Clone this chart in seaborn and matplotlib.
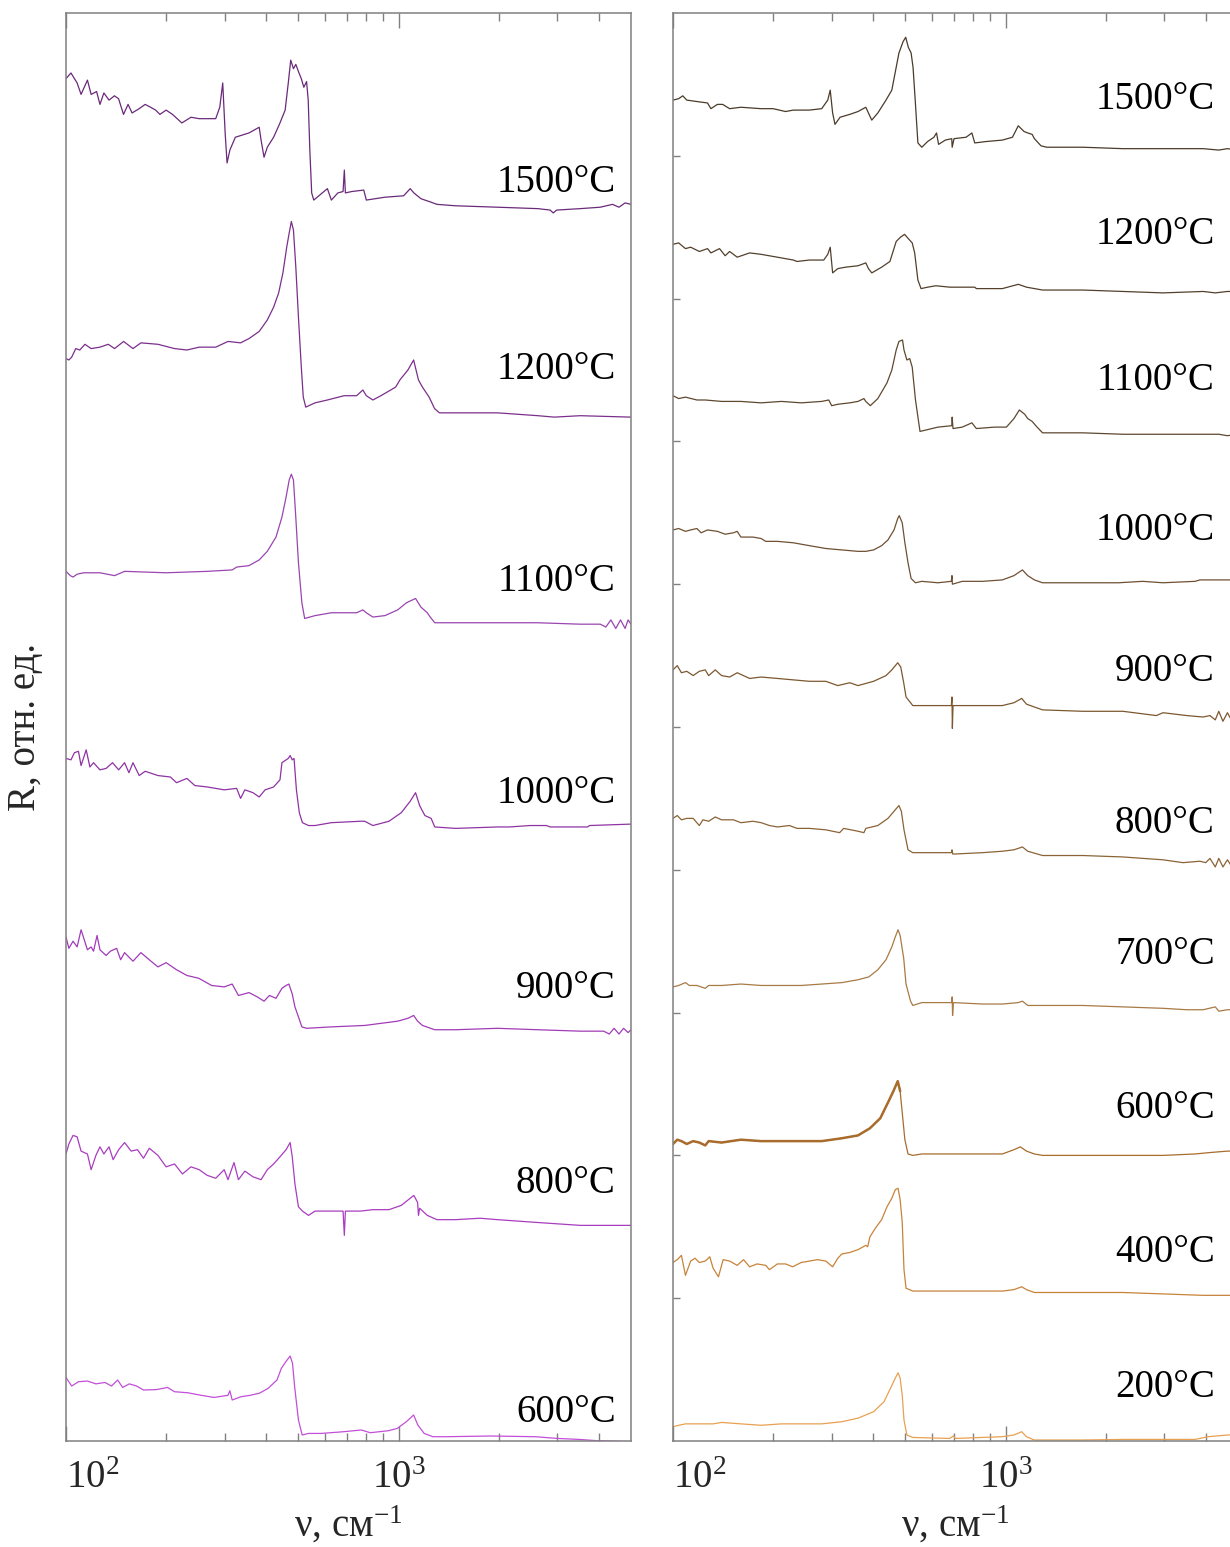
import pandas as pd
import matplotlib
matplotlib.use("Agg")
import matplotlib.pyplot as plt
import matplotlib.transforms as mtransforms
from matplotlib.ticker import FixedLocator, NullFormatter
import seaborn as sns

# reflectance spectra: (wavenumber cm-1, R offset units)
L1500 = [(100, 9.54), (103.5, 9.58), (108, 9.51), (111, 9.43), (116, 9.53), (119, 9.43), (123.6, 9.45),
         (126.5, 9.36), (130, 9.44), (134.7, 9.39), (139.8, 9.42), (143.9, 9.40), (148.9, 9.29), (153.7, 9.36),
         (158, 9.30), (166, 9.33), (173, 9.36), (179.6, 9.34), (186, 9.32), (191.6, 9.29), (200, 9.32),
         (209, 9.29), (223, 9.23), (237.6, 9.27), (251.5, 9.26), (282, 9.26), (290, 9.34), (296, 9.51),
         (301, 9.16), (305, 8.95), (311, 9.04), (323, 9.13), (355, 9.16), (381, 9.20), (386, 9.11), (394, 8.99),
         (403, 9.06), (421, 9.13), (440, 9.23), (456, 9.32), (466, 9.51), (474, 9.67), (483, 9.61), (491, 9.64),
         (500, 9.59), (510, 9.54), (519, 9.48), (529, 9.52), (535, 9.39), (541, 9.04), (548, 8.74), (556, 8.69),
         (576, 8.72), (611, 8.77), (628, 8.69), (657, 8.74), (681, 8.75), (687, 8.90), (692, 8.74), (724, 8.75),
         (786, 8.76), (800, 8.69), (910, 8.71), (1036, 8.72), (1084, 8.77), (1112, 8.74), (1167, 8.70),
         (1200, 8.69), (1236, 8.68), (1304, 8.66), (1484, 8.65), (1983, 8.64), (2624, 8.63), (2856, 8.62),
         (2918, 8.60), (2989, 8.62), (3519, 8.63), (4042, 8.64), (4400, 8.66), (4600, 8.64), (4800, 8.67),
         (5000, 8.66)]
L1200 = [(100, 7.58), (102, 7.57), (104, 7.59), (107, 7.65), (110, 7.64), (114, 7.68), (119, 7.65),
         (126.5, 7.66), (134, 7.68), (140, 7.65), (149, 7.70), (159, 7.65), (168, 7.69), (189, 7.68),
         (212, 7.65), (231, 7.64), (251.5, 7.66), (282, 7.66), (307, 7.70), (335, 7.69), (355, 7.72),
         (381, 7.77), (403, 7.85), (421, 7.94), (436, 8.04), (449, 8.18), (461, 8.36), (469, 8.46), (476, 8.54),
         (483, 8.48), (491, 8.22), (500, 7.87), (510, 7.52), (517, 7.31), (526, 7.24), (561, 7.27), (611, 7.29),
         (686, 7.32), (748, 7.32), (781, 7.36), (800, 7.32), (837, 7.29), (885, 7.32), (980, 7.38),
         (1009, 7.43), (1067, 7.50), (1110, 7.57), (1148, 7.43), (1180, 7.38), (1236, 7.31), (1283, 7.23),
         (1327, 7.20), (1484, 7.20), (1983, 7.20), (2624, 7.18), (2940, 7.17), (3519, 7.18), (5000, 7.17)]
L1100 = [(100, 6.09), (103, 6.06), (105, 6.05), (108, 6.07), (113, 6.08), (119, 6.08), (126.5, 6.08),
         (140, 6.06), (150, 6.09), (200, 6.08), (266, 6.09), (316, 6.10), (326, 6.12), (355, 6.13), (381, 6.17),
         (403, 6.23), (428, 6.33), (446, 6.47), (459, 6.61), (469, 6.73), (476, 6.77), (483, 6.73), (490, 6.50),
         (500, 6.15), (512, 5.87), (522, 5.76), (561, 5.78), (628, 5.80), (748, 5.80), (781, 5.82), (800, 5.80),
         (837, 5.77), (910, 5.78), (994, 5.82), (1056, 5.87), (1125, 5.90), (1167, 5.84), (1220, 5.80),
         (1245, 5.77), (1285, 5.73), (1484, 5.73), (1983, 5.73), (2624, 5.73), (3519, 5.72), (4042, 5.72),
         (4200, 5.70), (4350, 5.75), (4500, 5.69), (4650, 5.75), (4800, 5.69), (4900, 5.75), (5000, 5.72)]
L1000 = [(100, 4.78), (103.5, 4.77), (106, 4.82), (109, 4.83), (111, 4.73), (115, 4.84), (118, 4.72),
         (121, 4.75), (126.5, 4.70), (132, 4.71), (138, 4.75), (144, 4.70), (150, 4.75), (154.6, 4.68),
         (159, 4.75), (166, 4.66), (173, 4.69), (189, 4.66), (206, 4.65), (215, 4.61), (231, 4.64), (244, 4.59),
         (266, 4.58), (299, 4.56), (326, 4.57), (335, 4.50), (345, 4.56), (365, 4.54), (381, 4.51), (397, 4.56),
         (421, 4.58), (440, 4.63), (446, 4.75), (466, 4.78), (472, 4.80), (479, 4.77), (485, 4.78), (493, 4.56),
         (503, 4.40), (514, 4.33), (536, 4.31), (561, 4.31), (628, 4.33), (769, 4.34), (791, 4.34), (837, 4.31),
         (936, 4.34), (1019, 4.40), (1084, 4.48), (1125, 4.54), (1157, 4.45), (1200, 4.38), (1253, 4.36),
         (1285, 4.30), (1484, 4.29), (1983, 4.30), (2156, 4.30), (2485, 4.31), (2785, 4.31), (2856, 4.30),
         (3703, 4.30), (3750, 4.31), (5000, 4.32)]
L900 = [(100, 3.53), (102, 3.45), (105, 3.50), (108, 3.46), (111, 3.58), (116, 3.44), (119, 3.46),
        (121, 3.43), (124, 3.54), (126.5, 3.44), (132, 3.40), (136, 3.43), (142, 3.45), (146, 3.37), (150, 3.42),
        (159, 3.36), (168, 3.42), (178, 3.37), (189, 3.32), (200, 3.35), (215, 3.30), (231, 3.26), (251, 3.24),
        (274, 3.19), (299, 3.18), (316, 3.20), (330, 3.12), (355, 3.14), (376, 3.11), (394, 3.08), (409, 3.12),
        (428, 3.10), (446, 3.17), (459, 3.19), (468, 3.20), (479, 3.13), (488, 3.04), (500, 2.97), (512, 2.90),
        (529, 2.89), (628, 2.90), (791, 2.91), (994, 2.94), (1067, 2.96), (1110, 2.98), (1141, 2.94),
        (1180, 2.91), (1285, 2.88), (1484, 2.88), (1983, 2.89), (2624, 2.88), (3519, 2.87), (4140, 2.87),
        (4300, 2.85), (4450, 2.89), (4600, 2.85), (4750, 2.89), (4900, 2.86), (5000, 2.88)]
L800 = [(100, 2.01), (102, 2.08), (105, 2.14), (108, 2.13), (111, 2.03), (116, 2.01), (119, 1.90),
        (123, 2.00), (126.5, 2.06), (130, 2.01), (134.7, 2.06), (138.6, 1.97), (144, 2.04), (150, 2.09),
        (157, 2.03), (164, 2.04), (171, 1.98), (178, 2.05), (189, 2.00), (200, 1.92), (212, 1.94), (224, 1.87),
        (237.5, 1.92), (251.5, 1.90), (266, 1.86), (282, 1.84), (299, 1.90), (307, 1.83), (320, 1.95),
        (330, 1.83), (345, 1.89), (365, 1.85), (386, 1.83), (403, 1.90), (421, 1.94), (440, 1.99), (459, 2.04),
        (472, 2.09), (479, 1.99), (488, 1.80), (500, 1.64), (514, 1.61), (536, 1.58), (561, 1.61), (628, 1.61),
        (681, 1.61), (687, 1.44), (692, 1.61), (769, 1.61), (837, 1.62), (936, 1.62), (1019, 1.65),
        (1084, 1.70), (1112, 1.72), (1141, 1.67), (1148, 1.58), (1157, 1.63), (1220, 1.58), (1304, 1.55),
        (1484, 1.55), (1758, 1.56), (1983, 1.55), (2624, 1.53), (3519, 1.51), (5000, 1.51)]
L600 = [(100, 0.445), (104, 0.385), (109, 0.415), (116, 0.42), (123, 0.40), (131, 0.41), (137, 0.385),
        (143, 0.427), (148, 0.375), (155, 0.40), (163, 0.385), (171, 0.357), (187, 0.36), (202, 0.375),
        (212, 0.345), (232, 0.338), (255, 0.32), (279, 0.305), (307, 0.32), (311, 0.352), (316, 0.287),
        (336, 0.31), (358, 0.32), (381, 0.334), (405, 0.368), (431, 0.427), (444, 0.508), (458, 0.555),
        (472, 0.595), (480, 0.543), (487, 0.38), (500, 0.147), (513, 0.042), (536, 0.053), (585, 0.053),
        (683, 0.065), (773, 0.077), (822, 0.058), (932, 0.072), (991, 0.088), (1055, 0.135), (1110, 0.182),
        (1143, 0.112), (1194, 0.053), (1268, 0.03), (1390, 0.03), (1891, 0.035), (2576, 0.03), (3003, 0.018),
        (3500, 0.011), (3960, 0.002), (5000, -0.005)]

R1500 = [(100, 9.39), (104, 9.40), (107, 9.42), (110, 9.39), (118, 9.38), (127, 9.37), (130, 9.33),
         (136, 9.36), (141, 9.36), (148, 9.33), (160, 9.34), (184, 9.33), (200, 9.33), (218, 9.31), (230, 9.32),
         (257, 9.32), (280, 9.33), (292, 9.39), (297, 9.46), (302, 9.30), (307, 9.22), (318, 9.27), (340, 9.29),
         (360, 9.31), (380, 9.34), (387, 9.30), (396, 9.25), (413, 9.30), (437, 9.39), (455, 9.46), (469, 9.62),
         (478, 9.72), (492, 9.80), (501, 9.83), (510, 9.76), (520, 9.72), (527, 9.62), (535, 9.39), (545, 9.09),
         (560, 9.06), (583, 9.10), (609, 9.13), (620, 9.16), (629, 9.08), (659, 9.11), (689, 9.12), (691, 9.06),
         (700, 9.12), (761, 9.13), (792, 9.16), (808, 9.09), (875, 9.10), (978, 9.11), (1049, 9.13),
         (1092, 9.21), (1137, 9.17), (1166, 9.16), (1202, 9.15), (1221, 9.12), (1278, 9.07), (1330, 9.06),
         (1706, 9.06), (2253, 9.05), (2975, 9.05), (3928, 9.05), (4377, 9.04), (4647, 9.05), (5000, 9.04)]
R1200 = [(100, 8.38), (104, 8.39), (109, 8.35), (113, 8.36), (120, 8.33), (127, 8.35), (130, 8.32),
         (138, 8.35), (143.5, 8.30), (148, 8.33), (156, 8.29), (170, 8.32), (184, 8.31), (206, 8.29), (230, 8.27),
         (236, 8.26), (257, 8.27), (284, 8.27), (292, 8.31), (297, 8.36), (302, 8.18), (313, 8.21), (330, 8.22),
         (360, 8.23), (380, 8.25), (387, 8.21), (396, 8.18), (424, 8.22), (449, 8.26), (469, 8.40), (483, 8.43),
         (497, 8.45), (510, 8.42), (524, 8.39), (533, 8.32), (545, 8.13), (557, 8.07), (583, 8.08), (617, 8.09),
         (680, 8.08), (741, 8.08), (808, 8.08), (817, 8.07), (978, 8.07), (1092, 8.10), (1156, 8.08),
         (1292, 8.06), (1706, 8.06), (2253, 8.05), (2975, 8.04), (3928, 8.05), (4272, 8.04), (4647, 8.05),
         (5000, 8.05)]
R1100 = [(100, 7.32), (104, 7.30), (109, 7.31), (118, 7.29), (125, 7.29), (140, 7.28), (160, 7.28),
         (184, 7.27), (212, 7.28), (243, 7.27), (280, 7.28), (294, 7.29), (300, 7.25), (313, 7.26), (340, 7.27),
         (360, 7.28), (375, 7.30), (380, 7.28), (392, 7.25), (413, 7.30), (440, 7.41), (455, 7.50), (469, 7.64),
         (478, 7.70), (490, 7.71), (495, 7.64), (505, 7.57), (515, 7.58), (524, 7.52), (536, 7.29), (553, 7.07),
         (577, 7.08), (626, 7.10), (689, 7.11), (691, 7.17), (695, 7.09), (741, 7.10), (792, 7.13), (817, 7.09),
         (925, 7.10), (1006, 7.10), (1060, 7.16), (1100, 7.22), (1142, 7.19), (1166, 7.16), (1202, 7.14),
         (1244, 7.10), (1292, 7.06), (1706, 7.06), (2253, 7.05), (2975, 7.05), (3928, 7.05), (4377, 7.05),
         (4647, 7.04), (5000, 7.05)]
R1000 = [(100, 6.38), (104, 6.39), (109, 6.37), (113, 6.38), (118, 6.39), (121.5, 6.36), (127, 6.38),
         (136, 6.37), (143.5, 6.35), (152, 6.36), (156, 6.37), (160, 6.33), (174, 6.33), (184, 6.32), (190, 6.30),
         (206, 6.30), (230, 6.29), (257, 6.27), (288, 6.25), (322, 6.24), (360, 6.23), (380, 6.23), (401, 6.24),
         (424, 6.27), (443, 6.31), (462, 6.38), (474, 6.46), (479, 6.48), (489, 6.43), (498, 6.29), (509, 6.15),
         (520, 6.04), (536, 6.01), (560, 6.02), (626, 6.01), (687, 6.02), (690, 6.06), (692, 6.00), (741, 6.02),
         (853, 6.02), (978, 6.03), (1060, 6.06), (1124, 6.10), (1166, 6.06), (1221, 6.03), (1292, 6.01),
         (1706, 6.01), (2187, 6.01), (2585, 6.02), (2975, 6.01), (3715, 6.02), (3839, 6.03), (4647, 6.03),
         (5000, 6.03)]
R900 = [(100, 5.40), (103, 5.43), (106, 5.38), (110, 5.39), (115, 5.36), (120, 5.39), (125, 5.40),
        (128, 5.36), (134, 5.40), (140, 5.36), (148, 5.35), (156, 5.38), (170, 5.34), (184, 5.35), (206, 5.34),
        (230, 5.33), (257, 5.32), (288, 5.32), (313, 5.29), (340, 5.31), (360, 5.29), (401, 5.32), (437, 5.36),
        (455, 5.40), (474, 5.45), (484, 5.42), (494, 5.31), (502, 5.21), (518, 5.17), (526, 5.15), (545, 5.15),
        (594, 5.15), (687, 5.15), (690, 5.21), (692, 4.99), (695, 5.15), (783, 5.15), (875, 5.15), (978, 5.15),
        (1060, 5.17), (1118, 5.20), (1156, 5.16), (1221, 5.14), (1292, 5.12), (1706, 5.11), (2253, 5.11),
        (2841, 5.08), (2975, 5.10), (3509, 5.08), (3928, 5.07), (4117, 5.08), (4272, 5.05), (4377, 5.11),
        (4505, 5.04), (4647, 5.10), (4800, 5.04), (5000, 5.06)]
R800 = [(100, 4.36), (103, 4.38), (106, 4.35), (110, 4.36), (115, 4.36), (120, 4.31), (123, 4.35),
        (128, 4.34), (134, 4.37), (140, 4.35), (152, 4.35), (160, 4.33), (174, 4.34), (184, 4.33), (195, 4.31),
        (206, 4.30), (224, 4.31), (236, 4.29), (257, 4.29), (288, 4.28), (317, 4.26), (326, 4.29), (360, 4.27),
        (375, 4.26), (380, 4.29), (413, 4.31), (443, 4.36), (462, 4.41), (478, 4.45), (486, 4.41), (495, 4.28),
        (509, 4.14), (526, 4.12), (560, 4.12), (687, 4.12), (690, 4.14), (694, 4.11), (853, 4.12), (978, 4.13),
        (1060, 4.14), (1124, 4.16), (1166, 4.13), (1292, 4.10), (1706, 4.10), (2253, 4.09), (2975, 4.07),
        (3416, 4.05), (3839, 4.06), (4000, 4.05), (4117, 4.08), (4272, 4.02), (4377, 4.08), (4505, 4.02),
        (4647, 4.07), (4800, 4.02), (5000, 4.04)]
R700 = [(100, 3.18), (104, 3.19), (109, 3.21), (112, 3.19), (118, 3.19), (125, 3.17), (128, 3.19),
        (140, 3.19), (160, 3.20), (184, 3.19), (212, 3.19), (243, 3.19), (280, 3.20), (322, 3.21), (360, 3.23),
        (388, 3.25), (413, 3.30), (437, 3.37), (455, 3.46), (466, 3.53), (475, 3.58), (482, 3.54), (494, 3.38),
        (502, 3.20), (518, 3.08), (526, 3.05), (560, 3.07), (689, 3.07), (691, 3.11), (693, 2.98), (697, 3.07),
        (853, 3.06), (978, 3.06), (1092, 3.07), (1124, 3.08), (1166, 3.05), (1706, 3.05), (2253, 3.04),
        (2975, 3.03), (3509, 3.02), (3928, 3.02), (4272, 3.04), (4377, 3.01), (4647, 3.02), (5000, 3.02)]
R600 = [(100, 2.08), (103, 2.11), (106, 2.10), (110, 2.08), (115, 2.10), (120, 2.09), (125, 2.07),
        (128, 2.10), (140, 2.09), (160, 2.11), (184, 2.10), (212, 2.10), (243, 2.10), (280, 2.10), (322, 2.12),
        (360, 2.14), (391, 2.19), (420, 2.26), (443, 2.37), (460, 2.45), (474, 2.52), (482, 2.45), (489, 2.30),
        (498, 2.11), (509, 2.01), (526, 2.00), (560, 2.01), (680, 2.01), (853, 2.01), (978, 2.01), (1060, 2.04),
        (1108, 2.06), (1156, 2.03), (1221, 2.01), (1292, 2.00), (1706, 2.00), (2253, 2.00), (2975, 2.00),
        (3715, 2.01), (4117, 2.02), (4647, 2.03), (5000, 2.03)]
R400 = [(100, 1.25), (103, 1.27), (106, 1.30), (109, 1.16), (113, 1.26), (116.5, 1.28), (120, 1.25),
        (125, 1.26), (129, 1.29), (132, 1.21), (137, 1.15), (141.5, 1.27), (148, 1.26), (156, 1.23),
        (163, 1.27), (170, 1.22), (179, 1.24), (190, 1.23), (195, 1.20), (206, 1.24), (218, 1.24), (229, 1.22),
        (243, 1.25), (272, 1.27), (288, 1.26), (302, 1.22), (313, 1.28), (322, 1.31), (340, 1.32), (360, 1.34),
        (380, 1.37), (385, 1.36), (391, 1.43), (406, 1.49), (424, 1.55), (440, 1.64), (455, 1.70), (466, 1.76),
        (475, 1.77), (482, 1.69), (489, 1.53), (495, 1.20), (502, 1.07), (526, 1.05), (560, 1.05), (680, 1.05),
        (853, 1.05), (978, 1.05), (1060, 1.06), (1118, 1.08), (1156, 1.06), (1221, 1.04), (1706, 1.04),
        (2253, 1.04), (2975, 1.03), (3928, 1.02), (4647, 1.02), (5000, 1.02)]
R200 = [(100, 0.10), (104, 0.11), (109, 0.12), (118, 0.12), (132, 0.12), (140, 0.13), (160, 0.12),
        (184, 0.11), (212, 0.12), (243, 0.12), (280, 0.12), (322, 0.135), (360, 0.16), (401, 0.205),
        (431, 0.275), (451, 0.37), (466, 0.44), (475, 0.478), (482, 0.44), (489, 0.32), (495, 0.147),
        (505, 0.042), (526, 0.025), (560, 0.023), (680, 0.018), (697, 0.035), (707, 0.018), (853, 0.025),
        (978, 0.03), (1060, 0.042), (1118, 0.065), (1156, 0.03), (1221, 0.007), (1706, 0.007), (2253, 0.011),
        (2975, 0.011), (3715, 0.011), (4065, 0.03), (4647, 0.042), (5000, 0.045)]

left_names = ["1500°C", "1200°C", "1100°C", "1000°C", "900°C", "800°C", "600°C"]
left_data = [L1500, L1200, L1100, L1000, L900, L800, L600]
left_colors = ["#6a2a7a", "#7b2f8c", "#9a45b0", "#8f33a3", "#a23bb8", "#a93dc0", "#c24fd8"]
left_label_y = [8.75, 7.44, 5.95, 4.47, 3.10, 1.74, 0.13]

right_names = ["1500°C", "1200°C", "1100°C", "1000°C", "900°C", "800°C", "700°C", "600°C", "400°C", "200°C"]
right_data = [R1500, R1200, R1100, R1000, R900, R800, R700, R600, R400, R200]
right_colors = ["#4a3b2b", "#52402c", "#5e4830", "#6f5033", "#7c5830", "#8a6336",
                "#a87a45", "#a86c2c", "#c8833a", "#e8a152"]
right_label_y = [9.33, 8.38, 7.36, 6.31, 5.32, 4.26, 3.34, 2.26, 1.25, 0.31]

sns.set_theme(style="ticks")
plt.rcParams["font.family"] = ["Liberation Serif", "DejaVu Serif"]
plt.rcParams["mathtext.fontset"] = "custom"
plt.rcParams["mathtext.rm"] = "Liberation Serif"
plt.rcParams["mathtext.it"] = "Liberation Serif:italic"

FS = 28
GREY = "#808080"

fig = plt.figure(figsize=(12.3, 15.47), dpi=100)
ax_l = fig.add_axes([66 / 1230, 106 / 1547, 565 / 1230, 1428 / 1547])
ax_r = fig.add_axes([673 / 1230, 106 / 1547, 565 / 1230, 1428 / 1547])


def draw_panel(ax, names, data, colors, label_y, label_x, thick=None):
    for name, pts, col in zip(names, data, colors):
        df = pd.DataFrame(pts, columns=["nu", "R"])
        sns.lineplot(data=df, x="nu", y="R", color=col, lw=0.9, sort=False,
                     estimator=None, ax=ax)
        # the 600°C scan on the right is drawn heavier in its low-frequency part
        if thick is not None and name == thick:
            part = df[df["nu"] <= 482]
            sns.lineplot(data=part, x="nu", y="R", color=col, lw=1.8, sort=False,
                         estimator=None, ax=ax)
    trans = mtransforms.blended_transform_factory(ax.transAxes, ax.transData)
    for name, y in zip(names, label_y):
        ax.text(label_x, y, name, transform=trans, ha="right", va="baseline",
                fontsize=FS, color="black")

    ax.set_xscale("log")
    ax.set_xlim(100, 5000)
    ax.set_ylim(0, 10)
    ax.set_xticks([100, 1000], labels=[r"$\mathregular{10^{2}}$", r"$\mathregular{10^{3}}$"])
    ax.xaxis.set_minor_locator(FixedLocator([200, 300, 400, 500, 600, 700, 800, 900, 2000, 3000, 4000]))
    ax.xaxis.set_minor_formatter(NullFormatter())
    ax.tick_params(axis="x", which="both", direction="in", top=True, bottom=True,
                   color=GREY, width=1.0, labelsize=FS, pad=14)
    ax.tick_params(axis="x", which="major", length=11)
    ax.tick_params(axis="x", which="minor", length=6)
    ax.get_xticklabels()[0].set_ha("left")
    ax.set_xlabel(r"ν, см$^{\mathregular{-1}}$", fontsize=FS, labelpad=5)
    ax.set_ylabel("")
    for sp in ax.spines.values():
        sp.set_color(GREY)
        sp.set_linewidth(1.1)


draw_panel(ax_l, left_names, left_data, left_colors, left_label_y, 0.973)
draw_panel(ax_r, right_names, right_data, right_colors, right_label_y, 0.959, thick="600°C")

ax_l.set_yticks([])
ax_l.set_ylabel("R, отн. ед.", fontsize=FS, labelpad=16)

ax_r.set_yticks(range(1, 10))
ax_r.tick_params(axis="y", which="major", direction="in", left=True, right=False,
                 labelleft=False, length=5, color=GREY, width=1.0)

fig.savefig("out.png", dpi=100)
plt.close(fig)
